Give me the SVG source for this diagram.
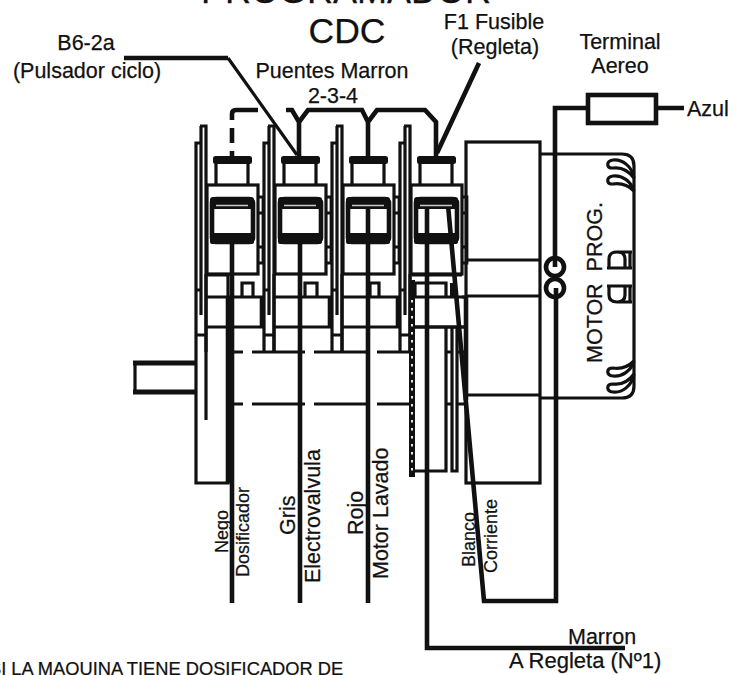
<svg xmlns="http://www.w3.org/2000/svg" xmlns:xlink="http://www.w3.org/1999/xlink" width="740" height="675" viewBox="0 0 740 675">
<style>
text{font-family:"Liberation Sans",Arial,sans-serif;font-size:21.5px;fill:#111;stroke:#111;stroke-width:.25px}
.s{font-size:18px}
.l{fill:none;stroke:#111;stroke-width:3.200}
.t{fill:none;stroke:#111;stroke-width:2.800}
.w{fill:none;stroke:#111;stroke-width:4.600}
.k{fill:#111}
</style>
<defs>
<g id="sw">
<rect class="k" x="-19" y="156" width="39" height="8" rx="2.500"/>
<path class="l" d="M-16 163V185M16 163V185"/>
<rect class="l" x="-25" y="185" width="51" height="89"/>
<rect class="w" x="-20" y="199" width="41" height="43" rx="4"/>
<rect class="k" x="-22" y="197" width="44" height="12" rx="3"/>
<rect class="k" x="-22" y="233" width="44" height="11" rx="2"/>
<path d="M-16 205.500H16" stroke="#ccc" stroke-width="1.500"/>
<path class="t" d="M26 197H31V263H26M26 213H31M26 247H31"/>
<path class="l" d="M-36 352V143H-32"/>
<path class="l" d="M-31 126V315"/>
<path class="l" d="M-32 126H-26V352"/>
<path class="l" d="M-36 290H-31M-36 335H-26"/>
<path class="l" d="M-26 297H31M-26 327H31"/>
<path class="l" d="M-26 274V352"/>
</g>
<g id="coil">
<path class="l" d="M634 178C632 166 622 159 613 160C606 161 606 168 613 168C620 167 628 170 634 178Z"/>
<path class="l" d="M634 191C631 181 622 175 613 176C606 177 606 184 613 184C620 183 628 185 634 191Z"/>
</g>
<path id="arch" class="l" d="M609 268V259Q609 252 617 252Q625 252 625 259V268M617 252H632M607 268H632M630 252V268"/>
</defs>

<g id="connectors">
<path class="w" d="M124 58H228"/>
<path class="l" d="M228 58L297 155"/>
<path class="w" d="M479 63L437 153"/>
<path class="w" d="M232 156V151M232 143V128M232 120V114Q232 110 236 110H258"/>
<path class="w" d="M286 110H292L299 122V157M299 122L308 110H362L368 122V157M368 122L377 110H425L436 122V156"/>
<path class="w" d="M232 243V603M300 243V603M368 208V603M427 208V648H625"/>
<path class="w" d="M448 205L484 601H556V288"/>
<path class="w" d="M555 267V108H588M656 108H684"/>
<path class="l" d="M230 352H243M252 352H305M314 352H368M377 352H409M230 404H243M252 404H305M314 404H368M377 404H409"/>
</g>

<g id="unit1"><use xlink:href="#sw" href="#sw" x="232"/>
<path class="l" d="M196 352V483H228V275M206 352V420M207 275H228M242 297V283H253V297"/>
<path class="w" d="M228 297V483"/></g>
<g id="unit2"><use xlink:href="#sw" href="#sw" x="300"/>
<path class="l" d="M305 297V283H317V297"/><path class="w" d="M262 297V327"/></g>
<g id="unit3"><use xlink:href="#sw" href="#sw" x="368"/>
<path class="l" d="M370 297V283H379V297"/><path class="w" d="M330 297V327"/></g>
<g id="unit4"><use xlink:href="#sw" href="#sw" x="436"/>
<path class="w" d="M398 297V327"/>
<path class="l" d="M412 275H462M415 297V283H446V297M412 471H446V327M452 327V471H457V327M410 327H466M446 352H452M446 404H452M457 352H466M457 404H466M462 297H466"/>
<path class="k" d="M450 283H457V297H450Z"/>
<path d="M412 280V477" stroke="#111" stroke-width="6"/>
<path d="M412 300V472" stroke="#fff" stroke-width="1.800" stroke-dasharray="2.500 5.500"/>
</g>

<g id="shaft">
<path class="l" d="M135 363V392"/>
<path d="M133 363H195M133 392H195" stroke="#111" stroke-width="5" fill="none"/>
</g>

<g id="motor">
<rect class="l" x="466" y="142" width="74" height="341"/>
<path class="l" d="M466 260H540M466 296H540M466 395H540"/>
<path class="w" d="M466 297V400"/>
<path class="l" d="M540 154H622Q634 154 634 166V386Q634 398 622 398H540"/>
<use xlink:href="#coil" href="#coil"/>
<use xlink:href="#coil" href="#coil" transform="matrix(1 0 0 -1 0 552)"/>
<use xlink:href="#arch" href="#arch"/>
<use xlink:href="#arch" href="#arch" transform="matrix(1 0 0 -1 0 554)"/>
<circle class="w" cx="555" cy="267" r="9"/>
<circle class="w" cx="555" cy="288" r="9"/>
<text transform="translate(602 363) rotate(-90)" style="word-spacing:6px">MOTOR PROG.</text>
</g>

<g id="terminal"><rect class="w" x="588" y="95" width="68" height="28"/></g>

<g id="labels">
<text x="346" y="3" text-anchor="middle" style="font-size:36px">PROGRAMADOR</text>
<text x="347" y="43" text-anchor="middle" style="font-size:35.500px">CDC</text>
<text x="86" y="50" text-anchor="middle">B6-2a</text>
<text x="87" y="78" text-anchor="middle">(Pulsador ciclo)</text>
<text x="332" y="78" text-anchor="middle">Puentes Marron</text>
<text x="333" y="103" text-anchor="middle">2-3-4</text>
<text x="494" y="29" text-anchor="middle">F1 Fusible</text>
<text x="495" y="54" text-anchor="middle">(Regleta)</text>
<text x="620" y="49" text-anchor="middle">Terminal</text>
<text x="620" y="73" text-anchor="middle">Aereo</text>
<text x="687" y="116">Azul</text>
<text class="s" transform="translate(228 553) rotate(-90)">Nego</text>
<text class="s" transform="translate(249 577) rotate(-90)">Dosificador</text>
<text transform="translate(295 535) rotate(-90)">Gris</text>
<text transform="translate(320 583) rotate(-90)">Electrovalvula</text>
<text transform="translate(363 535) rotate(-90)">Rojo</text>
<text transform="translate(388 579) rotate(-90)">Motor Lavado</text>
<text class="s" transform="translate(475 567) rotate(-90)">Blanco</text>
<text class="s" transform="translate(497 573) rotate(-90)">Corriente</text>
<text x="568" y="644">Marron</text>
<text x="509" y="668" style="font-size:22px">A Regleta (Nº1)</text>
<text x="-11" y="675" style="font-size:18.300px">SI LA MAQUINA TIENE DOSIFICADOR DE</text>
</g>
</svg>
